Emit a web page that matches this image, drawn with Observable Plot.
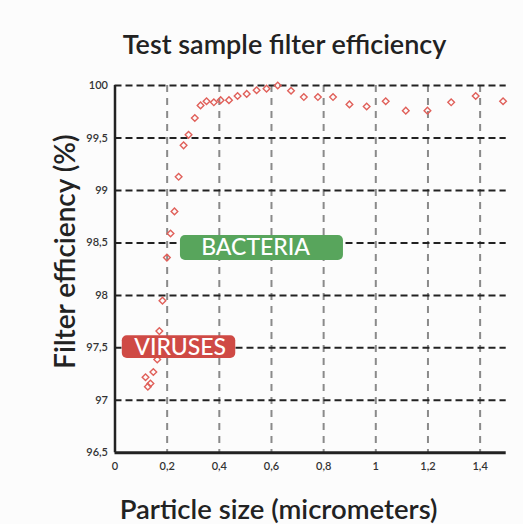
<!DOCTYPE html>
<html>
<head>
<meta charset="utf-8">
<script src="https://cdn.jsdelivr.net/npm/d3@7"></script>
<script src="https://cdn.jsdelivr.net/npm/@observablehq/plot@0.6"></script>
<style>
  html, body { margin: 0; padding: 0; background: #ffffff; }
  #chart { width: 523px; height: 524px; }
</style>
</head>
<body>
<div id="chart"></div>
<script>
// Particle size (micrometers)
const sizes = [0.117, 0.126, 0.136, 0.147, 0.162, 0.170, 0.182, 0.199, 0.213, 0.228,
  0.244, 0.263, 0.282, 0.306, 0.328, 0.351, 0.379, 0.405, 0.437, 0.470,
  0.505, 0.543, 0.581, 0.624, 0.675, 0.724, 0.778, 0.836, 0.899, 0.965,
  1.038, 1.115, 1.198, 1.289, 1.383, 1.488];
// Filter efficiency (%)
const efficiency = [97.22, 97.13, 97.16, 97.27, 97.39, 97.66, 97.95, 98.36, 98.59, 98.80,
  99.13, 99.43, 99.53, 99.69, 99.81, 99.85, 99.84, 99.86, 99.86, 99.90,
  99.92, 99.955, 99.97, 100.0, 99.95, 99.89, 99.89, 99.89, 99.82, 99.80,
  99.85, 99.76, 99.76, 99.84, 99.90, 99.85];

const xTicks = [0, 0.2, 0.4, 0.6, 0.8, 1, 1.2, 1.4];
const yTicks = [96.5, 97, 97.5, 98, 98.5, 99, 99.5, 100];

// Annotation labels (data coordinates)
const labelNames = ["BACTERIA", "VIRUSES"];
const labelX1 = [0.251, 0.028];
const labelX2 = [0.876, 0.463];
const labelY1 = [98.332, 97.398];
const labelY2 = [98.571, 97.615];
const labelTextX = [0.539, 0.250];
const labelColors = ["#58a55c", "#cf4a45"];

const points = sizes.map((s, i) => ({size: s, eff: efficiency[i]}));
const labels = labelNames.map((n, i) => ({
  name: n, x1: labelX1[i], x2: labelX2[i], y1: labelY1[i], y2: labelY2[i],
  tx: labelTextX[i], color: labelColors[i]
}));

const comma = d => String(d).replace(".", ",");
const FONT = "Lato, 'Open Sans', sans-serif";

const chart = Plot.plot({
  width: 523,
  height: 524,
  marginLeft: 114.5,
  marginRight: 17.3,
  marginTop: 85,
  marginBottom: 71.7,
  style: {background: "#fcfcfc", fontFamily: FONT, color: "#333"},
  x: {domain: [0, 1.5], ticks: xTicks, tickFormat: comma, tickSize: 0, tickPadding: 9, label: null},
  y: {domain: [96.5, 100], ticks: yTicks, tickFormat: comma, tickSize: 0, tickPadding: 7, label: null},
  marks: [
    Plot.ruleX(xTicks.filter(d => d > 0), {stroke: "#8a8a8a", strokeWidth: 2, strokeDasharray: "7,6"}),
    Plot.ruleY(yTicks.filter(d => d > 96.5), {stroke: "#222", strokeWidth: 2, strokeDasharray: "7,4"}),
    Plot.ruleY([96.5], {stroke: "#222", strokeWidth: 3}),
    Plot.ruleX([0], {stroke: "#222", strokeWidth: 2.5}),
    Plot.axisX({ticks: xTicks, tickFormat: comma, tickSize: 0, tickPadding: 9, fontSize: 11, fontWeight: 600, fill: "#333"}),
    Plot.axisY({ticks: yTicks, tickFormat: comma, tickSize: 0, tickPadding: 7, fontSize: 11, fontWeight: 600, fill: "#333"}),
    Plot.dot(points, {x: "size", y: "eff", symbol: "diamond2", r: 3, fill: "none", stroke: "#e0605a", strokeWidth: 1.4}),
    Plot.rect(labels, {x1: "x1", x2: "x2", y1: "y1", y2: "y2", fill: "color", rx: 5}),
    Plot.text(labels, {x: "tx", y: d => (d.y1 + d.y2) / 2, text: "name", fill: "white", fontSize: 23, fontWeight: 500, fontFamily: FONT}),
    Plot.text(["Test sample filter efficiency"], {frameAnchor: "top", lineAnchor: "bottom", dx: -26, dy: -32, fontSize: 27, fontWeight: 600, fill: "#222", fontFamily: FONT}),
    Plot.text(["Particle size (micrometers)"], {frameAnchor: "bottom", lineAnchor: "bottom", dx: -32, dy: 66, fontSize: 27.5, fontWeight: 600, fill: "#222", fontFamily: FONT}),
    Plot.text(["Filter efficiency (%)"], {frameAnchor: "left", textAnchor: "middle", lineAnchor: "bottom", rotate: -90, dx: -40.5, dy: -17.5, fontSize: 28, fontWeight: 600, fill: "#222", fontFamily: FONT})
  ]
});
document.getElementById("chart").appendChild(chart);
</script>
</body>
</html>
